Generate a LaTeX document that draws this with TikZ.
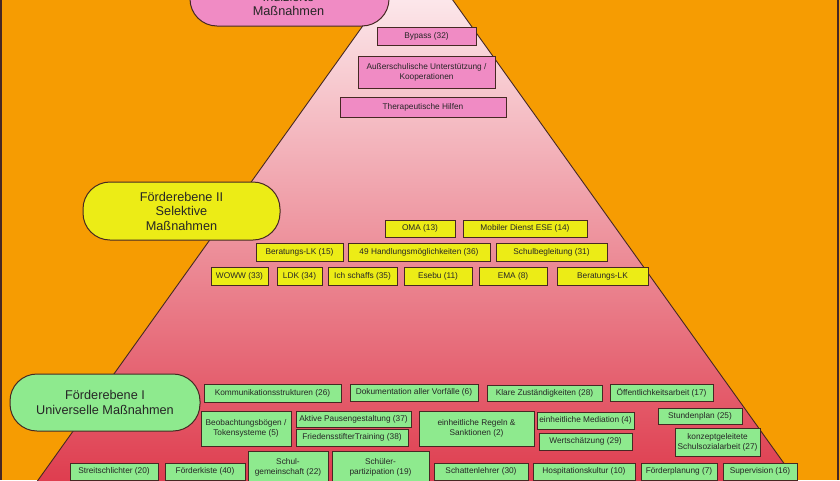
\documentclass[tikz,border=0pt]{standalone}
\usepackage{fontspec}
\setmainfont{Liberation Sans}
\definecolor{bg}{RGB}{246,156,2}
\definecolor{pk}{RGB}{240,139,196}
\definecolor{yl}{RGB}{236,236,22}
\definecolor{gr}{RGB}{142,234,142}
\definecolor{ln}{RGB}{70,40,35}
\definecolor{ptop}{RGB}{255,248,250}
\definecolor{pbot}{RGB}{222,58,76}
\tikzset{
  box/.style={draw=ln, line width=0.9pt, inner sep=0pt, align=center,
    font=\fontsize{8.3}{10}\selectfont, text=black!85},
  pbox/.style={box, fill=pk},
  ybox/.style={box, fill=yl},
  gbox/.style={box, fill=gr},
  lab/.style={draw=ln, line width=1pt, inner sep=0pt, align=center,
    font=\fontsize{12.7}{14.5}\selectfont, text=black!85, rounded corners=27pt}
}
\newcommand\bx[7]{\node[#2, minimum width={#5-#3}, minimum height={#6-#4}] (#1) at ({(#3+#5)/2},{(#4+#6)/2}) {#7};}
\begin{document}
\begin{tikzpicture}[x=1pt,y=-1pt]
\useasboundingbox (0,0) rectangle (840,480);
\clip (0,0) rectangle (840,480);
\fill[bg] (0,0) rectangle (840,480);
% pyramid
\draw[draw=ln, line width=0.9pt, top color=ptop, bottom color=pbot] (417,-50) -- (31,490) -- (803,490) -- cycle;
% frame edges
\draw[ln, line width=1.8pt] (0.9,0) -- (0.9,480);
\draw[ln, line width=1.8pt] (838.3,0) -- (838.3,480);

% level labels
\node[lab, fill=pk, minimum width=199pt, minimum height=62pt] (l3) at (289.5,-5) {};
\node[align=center, font=\fontsize{12.7}{14.5}\selectfont, text=black!85, inner sep=0pt] (l3t) at (288.5,4) {Indizierte\\Maßnahmen};
\node[lab, fill=yl, minimum width=197pt, minimum height=58pt] (l2) at (181.5,211) {Förderebene II\\Selektive\\Maßnahmen};
\node[lab, fill=gr, minimum width=190pt, minimum height=57pt] (l1) at (105,402.5) {Förderebene I\\Universelle Maßnahmen};

% pink boxes
\bx{b32}{pbox}{377}{27}{476}{45}{Bypass (32)}
\bx{ausk}{pbox}{358}{56}{495}{88}{Außerschulische Unterstützung /\\Kooperationen}
\bx{ther}{pbox}{340}{97}{506}{117}{Therapeutische Hilfen}

% yellow boxes
\bx{b13}{ybox}{385}{220}{455}{237}{OMA (13)}
\bx{b14}{ybox}{463}{220}{587}{237}{Mobiler Dienst ESE (14)}
\bx{b15}{ybox}{256}{243}{343}{261}{Beratungs-LK (15)}
\bx{b36}{ybox}{348}{243}{490}{261}{49 Handlungsmöglichkeiten (36)}
\bx{b31}{ybox}{496}{243}{607}{261}{Schulbegleitung (31)}
\bx{b33}{ybox}{211}{267}{268}{285}{WOWW (33)}
\bx{b34}{ybox}{277}{267}{322}{285}{LDK (34)}
\bx{b35}{ybox}{328}{267}{397}{285}{Ich schaffs (35)}
\bx{b11}{ybox}{404}{267}{472}{285}{Esebu (11)}
\bx{b8}{ybox}{479}{267}{547}{285}{EMA (8)}
\bx{blk}{ybox}{557}{267}{648}{285}{Beratungs-LK}

% green boxes
\bx{b26}{gbox}{204}{384}{341}{402}{Kommunikationsstrukturen (26)}
\bx{b6}{gbox}{350}{384}{478}{401}{Dokumentation aller Vorfälle (6)}
\bx{b28}{gbox}{487}{385}{602}{401}{Klare Zuständigkeiten (28)}
\bx{b17}{gbox}{610}{384}{713}{401}{Öffentlichkeitsarbeit (17)}
\bx{b5}{gbox}{201}{411}{291}{446}{Beobachtungsbögen /\\Tokensysteme (5)}
\bx{b37}{gbox}{296}{411}{411}{427}{Aktive Pausengestaltung (37)}
\bx{b38}{gbox}{296}{429}{408}{446}{FriedensstifterTraining (38)}
\bx{b2}{gbox}{419}{411}{534}{446}{einheitliche Regeln \&\\Sanktionen (2)}
\bx{b4}{gbox}{537}{412}{634}{429}{einheitliche Mediation (4)}
\bx{b29}{gbox}{539}{433}{632}{450}{Wertschätzung (29)}
\bx{b25}{gbox}{658}{408}{742}{424}{Stundenplan (25)}
\bx{b27}{gbox}{675}{428}{760}{456}{konzeptgeleitete\\Schulsozialarbeit (27)}
\bx{b20}{gbox}{70}{463}{158}{480}{Streitschlichter (20)}
\bx{b40}{gbox}{165}{463}{245}{480}{Förderkiste (40)}
\bx{b22}{gbox}{248}{451}{328}{483}{Schul-\\gemeinschaft (22)}
\bx{b19}{gbox}{332}{451}{429}{483}{Schüler-\\partizipation (19)}
\bx{b30}{gbox}{434}{463}{528}{480}{Schattenlehrer (30)}
\bx{b10}{gbox}{533}{463}{635}{480}{Hospitationskultur (10)}
\bx{b7}{gbox}{641}{463}{717}{480}{Förderplanung (7)}
\bx{b16}{gbox}{723}{463}{797}{480}{Supervision (16)}
\end{tikzpicture}
\end{document}
